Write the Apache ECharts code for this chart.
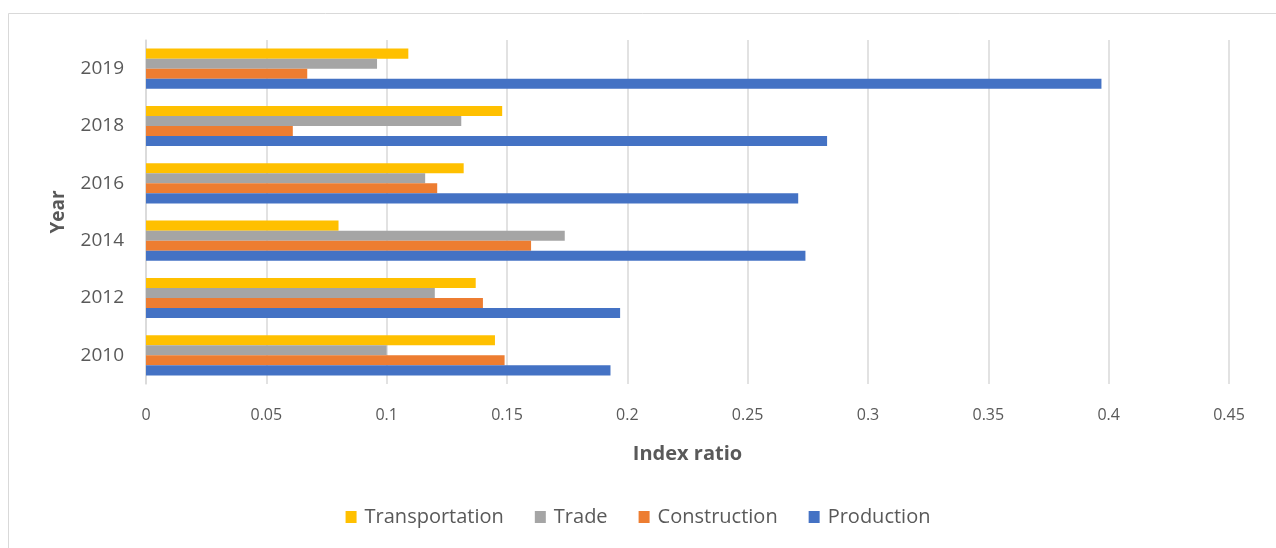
<!DOCTYPE html>
<html>
<head>
<meta charset="utf-8">
<script src="https://cdn.jsdelivr.net/npm/echarts@6/dist/echarts.min.js"></script>
<style>
  html, body { margin: 0; padding: 0; background: #fff; }
  #chart { width: 1276px; height: 548px; }
</style>
</head>
<body>
<div id="chart"></div>
<script>
// years on the category axis (bottom to top)
const years = ['2010', '2012', '2014', '2016', '2018', '2019'];

const production     = [0.193, 0.197, 0.274, 0.271, 0.283, 0.397];
const construction   = [0.149, 0.140, 0.160, 0.121, 0.061, 0.067];
const trade          = [0.100, 0.120, 0.174, 0.116, 0.131, 0.096];
const transportation = [0.145, 0.137, 0.080, 0.132, 0.148, 0.109];

const xTicks = [0, 0.05, 0.1, 0.15, 0.2, 0.25, 0.3, 0.35, 0.4, 0.45];

window.addEventListener("load", () => {
  let chart = echarts.init(document.getElementById("chart"), null, { renderer: 'canvas' });

  const textColor = '#595959';
  const font = '"Open Sans", "DejaVu Sans", sans-serif';

  let option = {
    backgroundColor: '#fff',
    animation: false,
    textStyle: { fontFamily: font },
    graphic: [
      {
        type: 'rect',
        shape: { x: 8.5, y: 13.5, width: 1300, height: 600 },
        style: { fill: 'none', stroke: '#d9d9d9', lineWidth: 1 },
        silent: true
      }
    ],
    legend: {
      data: ['Transportation', 'Trade', 'Construction', 'Production'],
      bottom: 16,
      left: 'center',
      itemWidth: 11,
      itemHeight: 12,
      itemGap: 31,
      icon: 'rect',
      textStyle: { color: textColor, fontSize: 20, fontFamily: font, padding: [0, 0, 0, 3] }
    },
    grid: { left: 146, right: 47, top: 40, bottom: 164 },
    xAxis: {
      type: 'value',
      min: 0,
      max: 0.45,
      interval: 0.05,
      name: 'Index ratio',
      nameLocation: 'middle',
      nameGap: 60,
      nameTextStyle: { color: textColor, fontSize: 20, fontWeight: 'bold' },
      axisLine: { show: false },
      axisTick: { show: false },
      axisLabel: {
        color: textColor, fontSize: 16, margin: 23,
        formatter: (v) => {
          let t = xTicks.find(x => Math.abs(x - v) < 1e-9);
          return t === undefined ? '' : String(t);
        }
      },
      splitLine: { show: true, lineStyle: { color: '#d9d9d9', width: 1.5 } }
    },
    yAxis: {
      type: 'category',
      data: years,
      name: 'Year',
      nameLocation: 'middle',
      nameGap: 78,
      nameRotate: 90,
      nameTextStyle: { color: textColor, fontSize: 19, fontWeight: 'bold' },
      axisLine: { show: true, lineStyle: { color: '#d9d9d9', width: 1.5 } },
      axisTick: { show: false },
      axisLabel: { color: textColor, fontSize: 19, margin: 22 }
    },
    series: [
      { name: 'Transportation', type: 'bar', data: transportation, barGap: '0%', barCategoryGap: '30%', itemStyle: { color: '#ffc000' } },
      { name: 'Trade', type: 'bar', data: trade, barGap: '0%', barCategoryGap: '30%', itemStyle: { color: '#a5a5a5' } },
      { name: 'Construction', type: 'bar', data: construction, barGap: '0%', barCategoryGap: '30%', itemStyle: { color: '#ed7d31' } },
      { name: 'Production', type: 'bar', data: production, barGap: '0%', barCategoryGap: '30%', itemStyle: { color: '#4472c4' } }
    ]
  };

  chart.setOption(option);
  window.addEventListener('resize', chart.resize);
});
</script>
</body>
</html>
